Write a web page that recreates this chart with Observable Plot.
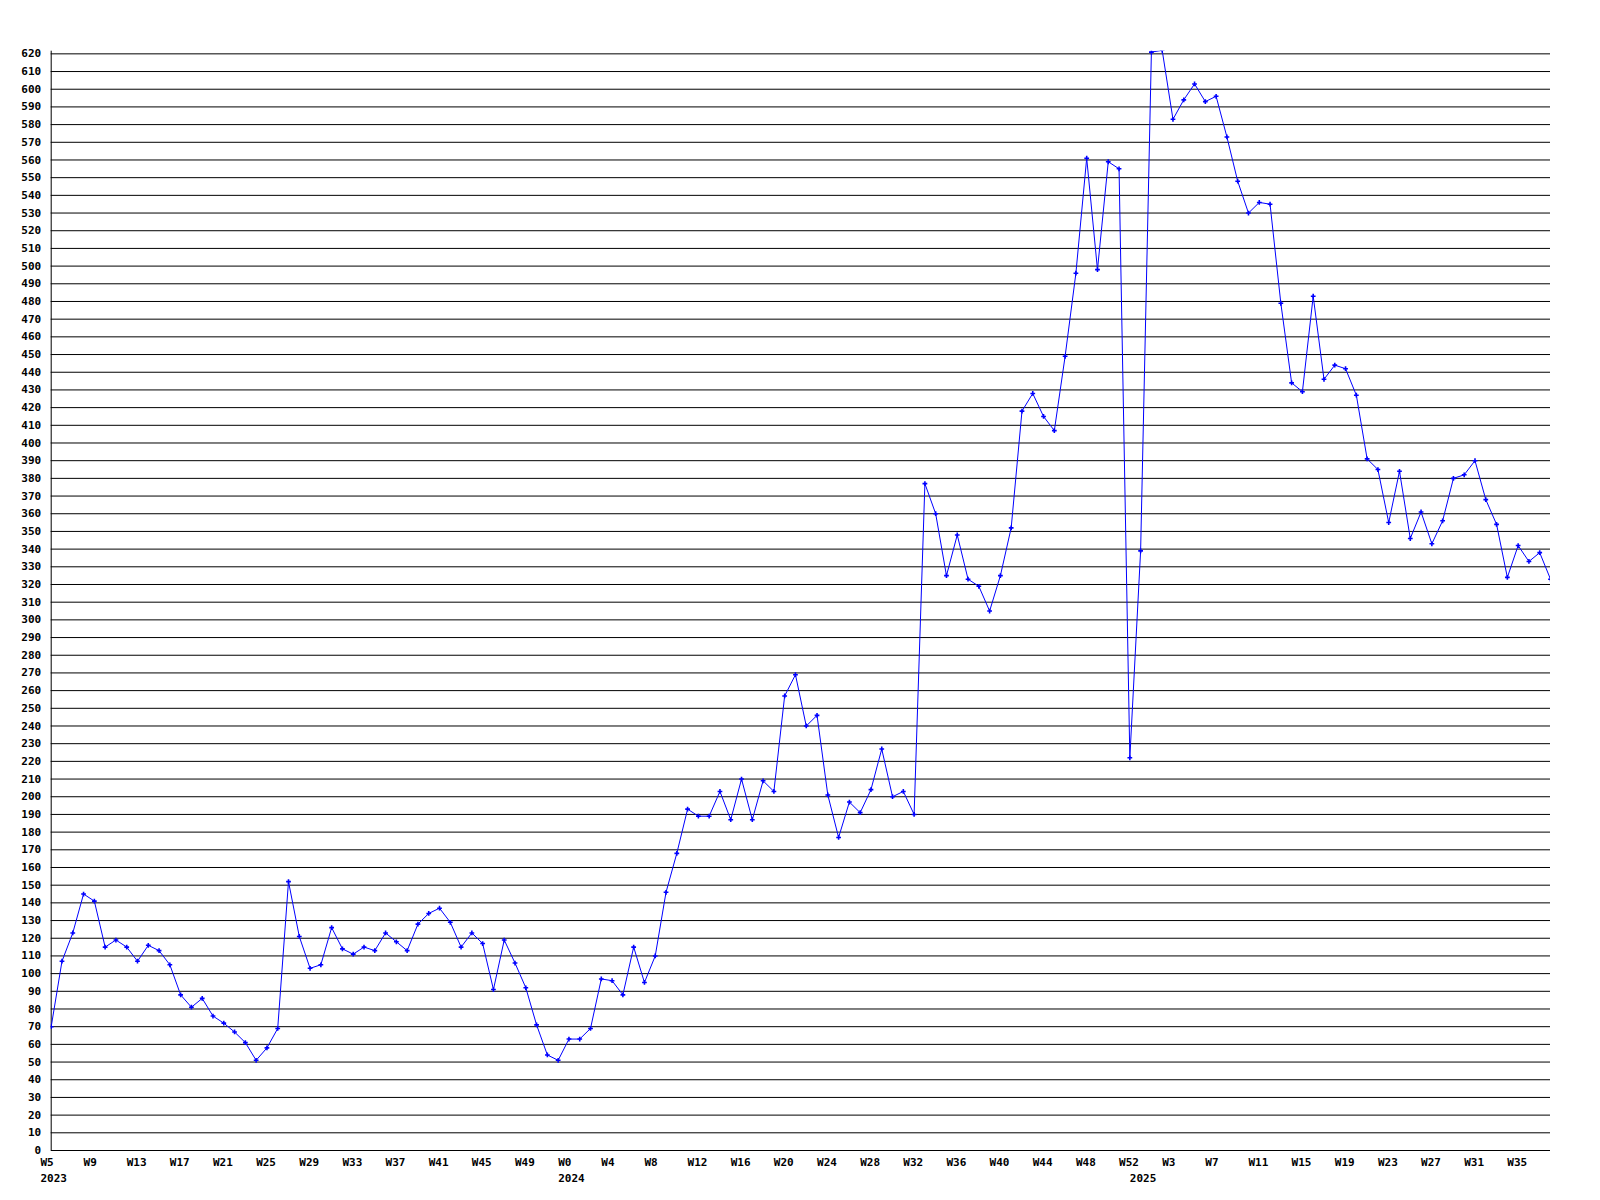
<!DOCTYPE html>
<html>
<head>
<meta charset="utf-8">
<script src="https://cdn.jsdelivr.net/npm/d3@7"></script>
<script src="https://cdn.jsdelivr.net/npm/@observablehq/plot@0.6"></script>
<style>
  html, body { margin: 0; padding: 0; background: #ffffff; }
  #chart svg { display: block; }
</style>
</head>
<body>
<div id="chart"></div>
<script>
// Weekly values, one array per year (first week number given separately)
const years = [2023, 2024, 2025];
const firstWeeks = [5, 0, 0];
const values2023 = [70, 107, 123, 145, 141, 115, 119, 115, 107, 116, 113, 105, 88, 81, 86, 76, 72, 67, 61, 51,
  58, 69, 152, 121, 103, 105, 126, 114, 111, 115, 113, 123, 118, 113, 128, 134, 137, 129, 115, 123,
  117, 91, 119, 106, 92, 71, 54, 51];
const values2024 = [63, 63, 69, 97, 96, 88, 115, 95, 110, 146, 168, 193, 189, 189, 203, 187, 210, 187, 209, 203,
  257, 269, 240, 246, 201, 177, 197, 191, 204, 227, 200, 203, 190, 377, 360, 325, 348, 323, 319, 305,
  325, 352, 418, 428, 415, 407, 449, 496, 561, 498, 559, 555, 222];
const values2025 = [339, 621, 622, 583, 594, 603, 593, 596, 573, 548, 530, 536, 535, 479, 434, 429, 483, 436, 444, 442,
  427, 391, 385, 355, 384, 346, 361, 343, 356, 380, 382, 390, 368, 354, 324, 342, 333, 338, 323];
const yTicks = d3.range(0, 621, 10);
const labelEvery = 4;

// Build table
const series = [values2023, values2024, values2025];
const data = [];
series.forEach((vals, k) => {
  vals.forEach((v, j) => {
    data.push({i: data.length, year: years[k], week: firstWeeks[k] + j, value: v, firstOfYear: j === 0});
  });
});
const weekLabels = data.filter(d => d.i % labelEvery === 0);
const yearLabels = data.filter(d => d.firstOfYear);

const font = "'DejaVu Sans Mono', 'Liberation Mono', monospace";

const chart = Plot.plot({
  width: 1600,
  height: 1200,
  marginLeft: 50.7,
  marginRight: 50,
  marginTop: 50.7,
  marginBottom: 50,
  style: {fontFamily: font, fontSize: "11px", fontWeight: "bold", background: "#ffffff", color: "#000"},
  x: {type: "linear", domain: [0, data.length - 1], axis: null},
  y: {domain: [0, 621.5], axis: null},
  marks: [
    Plot.gridY(yTicks, {stroke: "#000", strokeOpacity: 1, strokeWidth: 1}),
    Plot.ruleX([0], {stroke: "#000", strokeWidth: 1}),
    Plot.axisY(yTicks, {label: null, tickSize: 0, tickPadding: 10, tickFormat: d => String(d), fill: "#000", fontWeight: "bold", fontSize: 11}),
    Plot.line(data, {x: "i", y: "value", stroke: "#0000ff", strokeWidth: 1, clip: true}),
    Plot.dot(data, {x: "i", y: "value", symbol: "cross", r: 2, fill: "#0000ff", stroke: null, clip: true}),
    Plot.text(weekLabels, {x: "i", y: () => 0, text: d => "W" + d.week, textAnchor: "start", dx: -10.8, dy: 12, fill: "#000", fontWeight: "bold", fontSize: 11}),
    Plot.text(yearLabels, {x: "i", y: () => 0, text: d => String(d.year), textAnchor: "start", dx: -10.8, dy: 28, fill: "#000", fontWeight: "bold", fontSize: 11})
  ]
});
document.getElementById("chart").appendChild(chart);
</script>
</body>
</html>
